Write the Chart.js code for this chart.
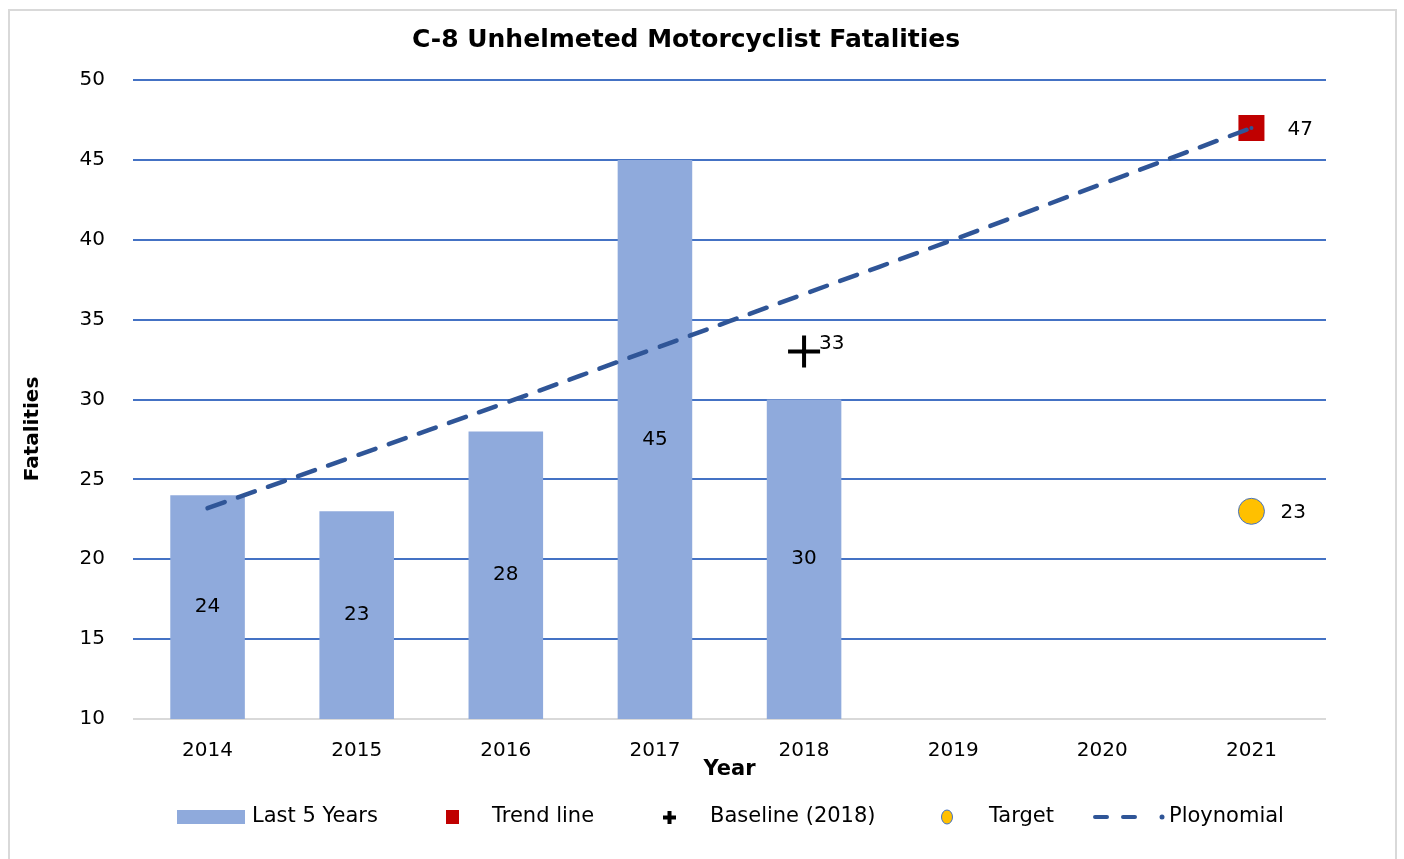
<!DOCTYPE html>
<html>
<head>
<meta charset="utf-8">
<script src="https://cdn.jsdelivr.net/npm/chart.js@4/dist/chart.umd.min.js"></script>
<style>
  body { margin: 0; background: #fff; }
  #wrap { position: relative; width: 1404px; height: 859px; }
  #frame { position: absolute; left: 8px; top: 9px; width: 1389px; height: 870px; border: 2px solid #d9d9d9; box-sizing: border-box; }
  canvas { position: absolute; left: 0; top: 0; }
</style>
</head>
<body>
<div id="wrap">
  <div id="frame"></div>
  <canvas id="myChart" width="1404" height="859"></canvas>
</div>
<script>
// Datos del gráfico
const years = ['2014', '2015', '2016', '2017', '2018', '2019', '2020', '2021'];
const lastFiveYears = [24, 23, 28, 45, 30, null, null, null];
const trendLine = [null, null, null, null, null, null, null, 47];
const baseline = [null, null, null, null, 33, null, null, null];
const target = [null, null, null, null, null, null, null, 23];
const polynomial = [23.2, 26.5, 29.8, 33.2, 36.6, 40.0, 43.5, 47.0];
const yTicks = [10, 15, 20, 25, 30, 35, 40, 45, 50];

const FONT = "'DejaVu Sans', sans-serif";
const barColor = '#8FAADC';
const polyColor = '#2F5597';

// Etiquetas de valores, títulos y leyenda dibujados a mano
const labelsPlugin = {
    id: 'labelsPlugin',
    afterDatasetsDraw(chart) {
        const ctx = chart.ctx;
        const bottom = chart.chartArea.bottom;
        ctx.save();
        ctx.fillStyle = '#000';
        ctx.font = '20px ' + FONT;
        ctx.textBaseline = 'middle';

        // valores dentro de las barras
        ctx.textAlign = 'center';
        chart.getDatasetMeta(0).data.forEach((bar, i) => {
            if (lastFiveYears[i] == null) return;
            ctx.fillText(lastFiveYears[i], bar.x, (bar.y + Math.min(bar.base, bottom)) / 2);
        });

        ctx.textAlign = 'left';
        chart.getDatasetMeta(1).data.forEach((pt, i) => {
            if (trendLine[i] == null) return;
            ctx.fillText(trendLine[i], pt.x + 36, pt.y + 2);
        });
        chart.getDatasetMeta(2).data.forEach((pt, i) => {
            if (baseline[i] == null) return;
            ctx.fillText(baseline[i], pt.x + 15, pt.y - 8);
        });
        chart.getDatasetMeta(3).data.forEach((pt, i) => {
            if (target[i] == null) return;
            ctx.fillText(target[i], pt.x + 29, pt.y + 1);
        });
        ctx.restore();
    },
    afterDraw(chart) {
        const ctx = chart.ctx;
        ctx.save();
        // título
        ctx.fillStyle = '#000';
        ctx.font = 'bold 25px ' + FONT;
        ctx.textAlign = 'center';
        ctx.textBaseline = 'middle';
        ctx.fillText('C-8 Unhelmeted Motorcyclist Fatalities', 686, 40);

        // título del eje Y
        ctx.save();
        ctx.translate(33, 429);
        ctx.rotate(-Math.PI / 2);
        ctx.font = 'bold 20px ' + FONT;
        ctx.fillText('Fatalities', 0, 0);
        ctx.restore();

        // leyenda
        const y = 817;
        ctx.font = '21px ' + FONT;
        ctx.textAlign = 'left';
        ctx.fillStyle = barColor;
        ctx.fillRect(177, y - 7, 68, 14);
        ctx.fillStyle = '#000';
        ctx.fillText('Last 5 Years', 252, y);

        ctx.fillStyle = '#C00000';
        ctx.fillRect(446, y - 7, 13, 14);
        ctx.fillStyle = '#000';
        ctx.fillText('Trend line', 492, y);

        ctx.fillRect(663, y - 1.5, 13, 4);
        ctx.fillRect(667.5, y - 6, 4, 13);
        ctx.fillText('Baseline (2018)', 710, y);

        ctx.beginPath();
        ctx.ellipse(947, y, 5.5, 7, 0, 0, Math.PI * 2);
        ctx.fillStyle = '#FFC000';
        ctx.fill();
        ctx.strokeStyle = '#4472C4';
        ctx.lineWidth = 1;
        ctx.stroke();
        ctx.fillStyle = '#000';
        ctx.fillText('Target', 989, y);

        ctx.strokeStyle = polyColor;
        ctx.lineWidth = 4;
        ctx.lineCap = 'round';
        ctx.beginPath();
        ctx.moveTo(1095, y); ctx.lineTo(1107, y);
        ctx.moveTo(1123, y); ctx.lineTo(1135, y);
        ctx.stroke();
        ctx.beginPath();
        ctx.arc(1162, y, 2.5, 0, Math.PI * 2);
        ctx.fillStyle = polyColor;
        ctx.fill();
        ctx.fillStyle = '#000';
        ctx.fillText('Ploynomial', 1169, y);
        ctx.restore();
    }
};

const ctx = document.getElementById('myChart').getContext('2d');
const myChart = new Chart(ctx, {
    type: 'bar',
    data: {
        labels: years,
        datasets: [
            {
                type: 'bar',
                label: 'Last 5 Years',
                data: lastFiveYears,
                backgroundColor: barColor,
                barPercentage: 0.5,
                categoryPercentage: 1,
                order: 5
            },
            {
                type: 'line',
                label: 'Trend line',
                data: trendLine,
                showLine: false,
                pointStyle: 'rect',
                pointRadius: 18.4,
                pointBackgroundColor: '#C00000',
                pointBorderWidth: 0,
                order: 2
            },
            {
                type: 'line',
                label: 'Baseline (2018)',
                data: baseline,
                showLine: false,
                pointStyle: 'cross',
                pointRadius: 16,
                pointBorderColor: '#000',
                pointBorderWidth: 4,
                order: 1
            },
            {
                type: 'line',
                label: 'Target',
                data: target,
                showLine: false,
                pointStyle: 'circle',
                pointRadius: 13,
                pointBackgroundColor: '#FFC000',
                pointBorderColor: '#4472C4',
                pointBorderWidth: 1,
                order: 1
            },
            {
                type: 'line',
                label: 'Ploynomial',
                data: polynomial,
                borderColor: polyColor,
                borderWidth: 4.5,
                borderDash: [18, 14],
                borderCapStyle: 'round',
                tension: 0.4,
                pointRadius: polynomial.map((v, i) => i === polynomial.length - 1 ? 2 : 0),
                pointBackgroundColor: polyColor,
                pointBorderWidth: 0,
                order: 0
            }
        ]
    },
    options: {
        responsive: false,
        animation: false,
        layout: { padding: { top: 80, right: 78, bottom: 70, left: 0 } },
        plugins: {
            legend: { display: false },
            title: { display: false },
            tooltip: { enabled: false }
        },
        scales: {
            x: {
                grid: { display: false, drawTicks: false },
                border: { display: false },
                ticks: { color: '#000', font: { family: FONT, size: 20 }, padding: 20, maxRotation: 0 },
                title: { display: true, text: 'Year', color: '#000', font: { family: FONT, size: 21, weight: 'bold' }, padding: { top: 0, bottom: 7 } },
                afterFit: (scale) => { scale.height = 70; }
            },
            y: {
                min: 10,
                max: 50,
                afterBuildTicks: (scale) => { scale.ticks = yTicks.map(v => ({ value: v })); },
                grid: {
                    drawTicks: false,
                    lineWidth: 2,
                    color: (c) => c.tick && c.tick.value === 10 ? '#D9D9D9' : '#4472C4'
                },
                border: { display: false },
                ticks: { color: '#000', font: { family: FONT, size: 20 }, padding: 28 },
                afterFit: (scale) => { scale.width = 133; }
            }
        }
    },
    plugins: [labelsPlugin]
});
</script>
</body>
</html>
